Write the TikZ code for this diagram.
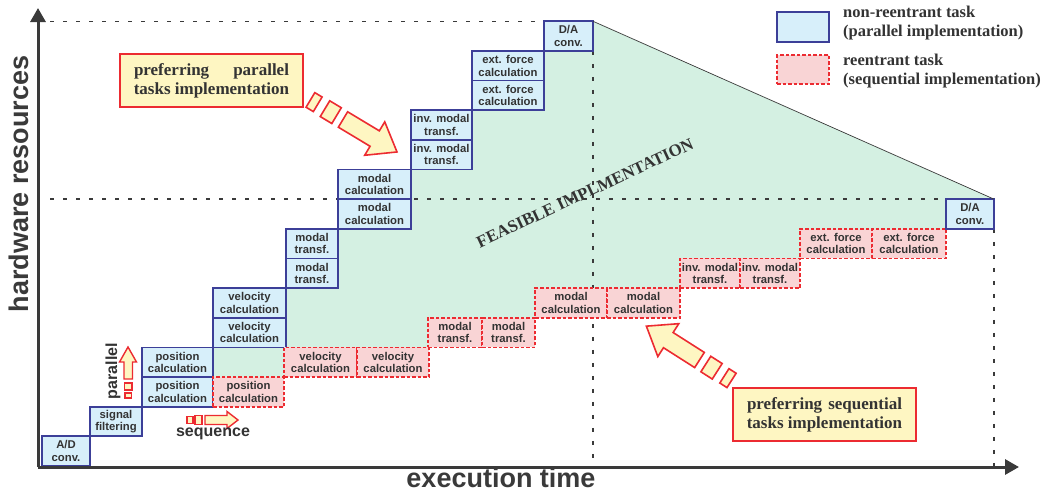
\documentclass[tikz,border=0pt]{standalone}
\usepackage{fontspec}
\setmainfont{Liberation Serif}
\newfontfamily\sansf{Liberation Sans}
\usetikzlibrary{arrows.meta}
\definecolor{bborder}{HTML}{3C3F98}
\definecolor{bfill}{HTML}{D7EFFA}
\definecolor{rborder}{HTML}{EC2B31}
\definecolor{rfill}{HTML}{F9D4D5}
\definecolor{gfill}{HTML}{D4F0E2}
\definecolor{yfill}{HTML}{FEF6C2}
\definecolor{txt}{HTML}{333333}
\definecolor{axc}{HTML}{3A3A3A}
\tikzset{
  task/.style={inner sep=0pt, outer sep=0pt, align=center, text=txt, line width=1.8pt, font=\sansf\bfseries\fontsize{11.3}{12.5}\selectfont},
  nonre/.style={task, draw=bborder, fill=bfill},
  reent/.style={task, draw=rborder, fill=rfill, dash pattern=on 3.5pt off 2pt},
  dotln/.style={draw=axc, line width=1.4pt, dash pattern=on 4pt off 9pt},
  axisln/.style={draw=axc, line width=3pt, -{Triangle[length=14pt,width=15pt]}},
  callout/.style={draw=rborder, fill=yfill, line width=2pt, inner sep=0pt, minimum width=183pt, minimum height=53pt, align=center, text=txt, font=\bfseries\fontsize{17}{19}\selectfont},
  blockarr/.style={draw=rborder, fill=yfill, line width=1.6pt, line join=miter},
  legtext/.style={anchor=west, inner sep=0pt, align=left, text=txt, font=\bfseries\fontsize{16.5}{19}\selectfont},
  smalltxt/.style={text=txt, inner sep=0pt, font=\sansf\bfseries\fontsize{16}{16}\selectfont},
  axlabel/.style={text=axc, inner sep=0pt, font=\sansf\bfseries\fontsize{27}{27}\selectfont},
}
\newcommand{\tsk}[7]{\node[#1, minimum width={(#4-#3)*1pt}, minimum height={(#6-#5)*1pt}] (#2) at ({(#3+#4)/2},{(#5+#6)/2}) {#7};}
\newcommand{\blockarrow}[3]{%
  \begin{scope}[shift={(#1,#2)}, rotate=#3]
    \draw[blockarr] (0,-9) -- (37,-9) -- (37,-19.5) -- (63,0) -- (37,19.5) -- (37,9) -- (0,9) -- cycle;
    \draw[blockarr] (-21,-9.2) -- (-7.5,-9.2) -- (-7.5,9.2) -- (-21,9.2) -- cycle;
    \draw[blockarr] (-38,-8.5) -- (-29.5,-8.5) -- (-29.5,8.5) -- (-38,8.5) -- cycle;
  \end{scope}}
\begin{document}
\begin{tikzpicture}[x=1pt,y=-1pt]
\useasboundingbox (0,0) rectangle (1047,493);
% feasible region
\fill[gfill] (213,377.05) -- (213,347.4) -- (286,347.4) -- (286,288.1) -- (338,288.1) -- (338,228.8) -- (411,228.8) -- (411,169.5) -- (472,169.5) -- (472,110.2) -- (544,110.2) -- (544,50.9) -- (593,50.9) -- (593,21.25) -- (994,199.15) -- (946,199.15) -- (946,228.8) -- (800,228.8) -- (800,258.45) -- (680,258.45) -- (680,288.1) -- (535,288.1) -- (535,317.75) -- (429,317.75) -- (429,347.4) -- (284,347.4) -- (284,377.05) -- cycle;
% guide lines
\coordinate (h1a) at (50,21.25);
\coordinate (h1b) at (593,21.25);
\coordinate (h2a) at (50,199.15);
\coordinate (h2b) at (994,199.15);
\coordinate (v1a) at (593,50.9);
\coordinate (v1b) at (593,466);
\coordinate (v2a) at (994,228.8);
\coordinate (v2b) at (994,466);
\draw[dotln] (h1a) -- (h1b);
\draw[dotln] (h2a) -- (h2b);
\draw[dotln] (v1a) -- (v1b);
\draw[dotln] (v2a) -- (v2b);
% non-reentrant tasks
\tsk{nonre}{ad}{42}{90}{436.35}{466}{A/D\\conv.}
\tsk{nonre}{sf}{90}{142}{406.7}{436.35}{signal\\filtering}
\tsk{nonre}{pca}{142}{213}{377.05}{406.7}{position\\calculation}
\tsk{nonre}{pcb}{142}{213}{347.4}{377.05}{position\\calculation}
\tsk{nonre}{vca}{213}{286}{317.75}{347.4}{velocity\\calculation}
\tsk{nonre}{vcb}{213}{286}{288.1}{317.75}{velocity\\calculation}
\tsk{nonre}{mta}{286}{338}{258.45}{288.1}{modal\\transf.}
\tsk{nonre}{mtb}{286}{338}{228.8}{258.45}{modal\\transf.}
\tsk{nonre}{mca}{338}{411}{199.15}{228.8}{modal\\calculation}
\tsk{nonre}{mcb}{338}{411}{169.5}{199.15}{modal\\calculation}
\tsk{nonre}{ima}{411}{472}{139.85}{169.5}{inv. modal\\transf.}
\tsk{nonre}{imb}{411}{472}{110.2}{139.85}{inv. modal\\transf.}
\tsk{nonre}{efa}{472}{544}{80.55}{110.2}{ext. force\\calculation}
\tsk{nonre}{efb}{472}{544}{50.9}{80.55}{ext. force\\calculation}
\tsk{nonre}{da}{544}{593}{21.25}{50.9}{D/A\\conv.}
% reentrant tasks
\tsk{reent}{rpc}{213}{284}{377.05}{406.7}{position\\calculation}
\tsk{reent}{rvca}{284}{357}{347.4}{377.05}{velocity\\calculation}
\tsk{reent}{rvcb}{357}{429}{347.4}{377.05}{velocity\\calculation}
\tsk{reent}{rmta}{428}{482}{317.75}{347.4}{modal\\transf.}
\tsk{reent}{rmtb}{482}{535}{317.75}{347.4}{modal\\transf.}
\tsk{reent}{rmca}{535}{607}{288.1}{317.75}{modal\\calculation}
\tsk{reent}{rmcb}{607}{680}{288.1}{317.75}{modal\\calculation}
\tsk{reent}{rima}{680}{740}{258.45}{288.1}{inv. modal\\transf.}
\tsk{reent}{rimb}{740}{800}{258.45}{288.1}{inv. modal\\transf.}
\tsk{reent}{refa}{800}{872}{228.8}{258.45}{ext. force\\calculation}
\tsk{reent}{refb}{872}{946}{228.8}{258.45}{ext. force\\calculation}
\tsk{nonre}{rda}{946}{994}{199.15}{228.8}{D/A\\conv.}
% boundary of feasible region
\draw[axc, line width=0.7pt] (da.north east) -- (rda.north east);
\node[rotate=25, text=txt, font=\bfseries\fontsize{17}{17}\selectfont] (feas) at (585,193) {FEASIBLE IMPLMENTATION};
% legend
\node[nonre, minimum width=52pt, minimum height=30pt] (lg1) at (803,27) {};
\node[reent, minimum width=52pt, minimum height=29pt] (lg2) at (803,69.5) {};
\node[legtext] (lt1) at (843,23.5) {non-reentrant task\\(parallel implementation)};
\node[legtext] (lt2) at (843,71) {reentrant task\\(sequential implementation)};
% callouts
\node[callout] (c1) at (211.5,80.5) {\makebox[155pt][s]{preferring parallel}\\tasks implementation};
\node[callout] (c2) at (824.5,414.5) {\makebox[155pt][s]{preferring sequential}\\tasks implementation};
\blockarrow{343}{119.5}{-31}
\blockarrow{699.5}{360}{147.5}
% small direction arrows
\draw[blockarr, line width=1.4pt] (124,379) -- (124,362) -- (119.5,362) -- (128,347) -- (136.5,362) -- (132.5,362) -- (132.5,379) -- cycle;
\draw[blockarr, line width=1.4pt] (124.5,383) -- (132,383) -- (132,390) -- (124.5,390) -- cycle;
\draw[blockarr, line width=1.4pt] (125,393) -- (131.5,393) -- (131.5,398) -- (125,398) -- cycle;
\draw[blockarr, line width=1.4pt] (205,415.5) -- (227,415.5) -- (227,411.5) -- (238,420) -- (227,428.5) -- (227,424.5) -- (205,424.5) -- cycle;
\draw[blockarr, line width=1.4pt] (195,415.5) -- (202,415.5) -- (202,424.5) -- (195,424.5) -- cycle;
\draw[blockarr, line width=1.4pt] (187,416.5) -- (193,416.5) -- (193,423.5) -- (187,423.5) -- cycle;
\node[smalltxt, rotate=90] (par) at (113,371) {parallel};
\node[smalltxt] (seq) at (213,434) {sequence};
% axes
\coordinate (O) at (38,467);
\coordinate (ytip) at (38,8);
\coordinate (xtip) at (1019,467);
\draw[axisln] (O) -- (ytip);
\draw[axisln] (O) -- (xtip);
\node[axlabel, rotate=90] (ylab) at (18.5,184) {hardware resources};
\node[axlabel] (xlab) at (501,478) {execution time};
\end{tikzpicture}
\end{document}
